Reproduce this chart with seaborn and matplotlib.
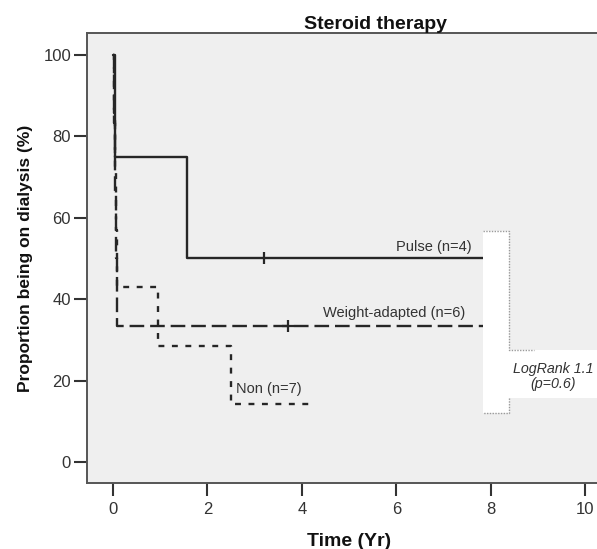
import numpy as np
import pandas as pd
import matplotlib
matplotlib.use("Agg")
import matplotlib.pyplot as plt
import seaborn as sns

# -----------------------------
# Data
# -----------------------------
pulse_time = [0.0, 0.05, 1.57, 7.83]
pulse_surv = [100, 75.0, 50.0, 50.0]
pulse_cens_time = [3.2]
pulse_cens_surv = [50.0]

weight_time = [0.0, 0.02, 0.04, 0.06, 0.09, 7.83]
weight_surv = [100, 83.3, 66.7, 50.0, 33.3, 33.3]
weight_cens_time = [3.7]
weight_cens_surv = [33.3]

non_time = [0.0, 0.02, 0.04, 0.06, 0.08, 0.96, 2.49, 4.2]
non_surv = [100, 85.7, 71.4, 57.1, 42.9, 28.6, 14.3, 14.3]

group_labels = ["Pulse (n=4)", "Weight-adapted (n=6)", "Non (n=7)"]
x_ticks = [0, 2, 4, 6, 8, 10]
y_ticks = [0, 20, 40, 60, 80, 100]

# -----------------------------
# Style
# -----------------------------
sns.set_style("ticks")
plt.rcParams["font.family"] = ["Liberation Sans", "DejaVu Sans"]
line_col = "#262626"
text_col = "#333333"

fig = plt.figure(figsize=(5.97, 5.49), dpi=100)
ax = fig.add_axes([0.1457, 0.1202, 0.965, 0.8197])
ax.set_facecolor("#efefef")

# -----------------------------
# Curves
# -----------------------------
sns.lineplot(x=pulse_time, y=pulse_surv, drawstyle="steps-post", sort=False,
             estimator=None, color=line_col, lw=1.7, ax=ax)
sns.lineplot(x=weight_time, y=weight_surv, drawstyle="steps-post", sort=False,
             estimator=None, color=line_col, lw=1.7, ax=ax,
             dashes=False, linestyle=(0, (6.2, 2.5)))
sns.lineplot(x=non_time, y=non_surv, drawstyle="steps-post", sort=False,
             estimator=None, color=line_col, lw=1.7, ax=ax,
             dashes=False, linestyle=(0, (2.5, 3.2)))

ax.plot(pulse_cens_time, pulse_cens_surv, marker="|", ms=9, mew=1.6, color=line_col, ls="none")
ax.plot(weight_cens_time, weight_cens_surv, marker="+", ms=9, mew=1.6, color=line_col, ls="none")

# curve labels
ax.text(7.6, 52.8, group_labels[0], ha="right", va="center", fontsize=10.5, color=text_col)
ax.text(7.45, 36.6, group_labels[1], ha="right", va="center", fontsize=10.5, color=text_col)
ax.text(2.6, 18.0, group_labels[2], ha="left", va="center", fontsize=10.5, color=text_col)

# -----------------------------
# LogRank box (white, dotted border)
# -----------------------------
box_x = [7.83, 8.38, 12.5]
box_y = [12.0, 15.7, 27.5, 56.8]
dot = dict(color="#9a9a9a", lw=1.0, ls=(0, (1, 1)))
ax.fill_between([box_x[0], box_x[1]], box_y[0], box_y[3], color="white", lw=0, zorder=3)
ax.fill_between([box_x[1], box_x[2]], box_y[1], box_y[2], color="white", lw=0, zorder=3)
ax.plot([box_x[0], box_x[1], box_x[1], 8.92], [box_y[3], box_y[3], box_y[2], box_y[2]], zorder=4, **dot)
ax.plot([box_x[1], box_x[1], box_x[0]], [box_y[1], box_y[0], box_y[0]], zorder=4, **dot)
ax.text(9.33, 21.0, "LogRank 1.1\n(p=0.6)", ha="center", va="center", fontsize=10.3,
        style="italic", color=text_col, zorder=5, linespacing=1.15)

# -----------------------------
# Axes
# -----------------------------
ax.set_xlim(-0.55, 11.65)
ax.set_ylim(-5.16, 105.4)
ax.set_xticks(x_ticks)
ax.set_yticks(y_ticks)
ax.tick_params(axis="both", labelsize=12, colors="#333333", width=1.5, direction="out")
ax.tick_params(axis="y", length=9.5, pad=2)
ax.tick_params(axis="x", length=9, pad=5)
for s in ["left", "bottom", "top"]:
    ax.spines[s].set_color("#555555")
    ax.spines[s].set_linewidth(1.4)
ax.spines["right"].set_visible(False)

ax.set_title("Steroid therapy", fontsize=14, fontweight="bold", color="#111111", pad=2.5)
ax.set_xlabel("Time (Yr)", fontsize=14, fontweight="bold", color="#111111")
ax.set_ylabel("Proportion being on dialysis (%)", fontsize=12.5, fontweight="bold", color="#111111")
ax.xaxis.set_label_coords((5 + 0.55) / 12.2, -0.11)
ax.yaxis.set_label_coords(-0.094, 0.5)

fig.savefig("out.png", dpi=100)
